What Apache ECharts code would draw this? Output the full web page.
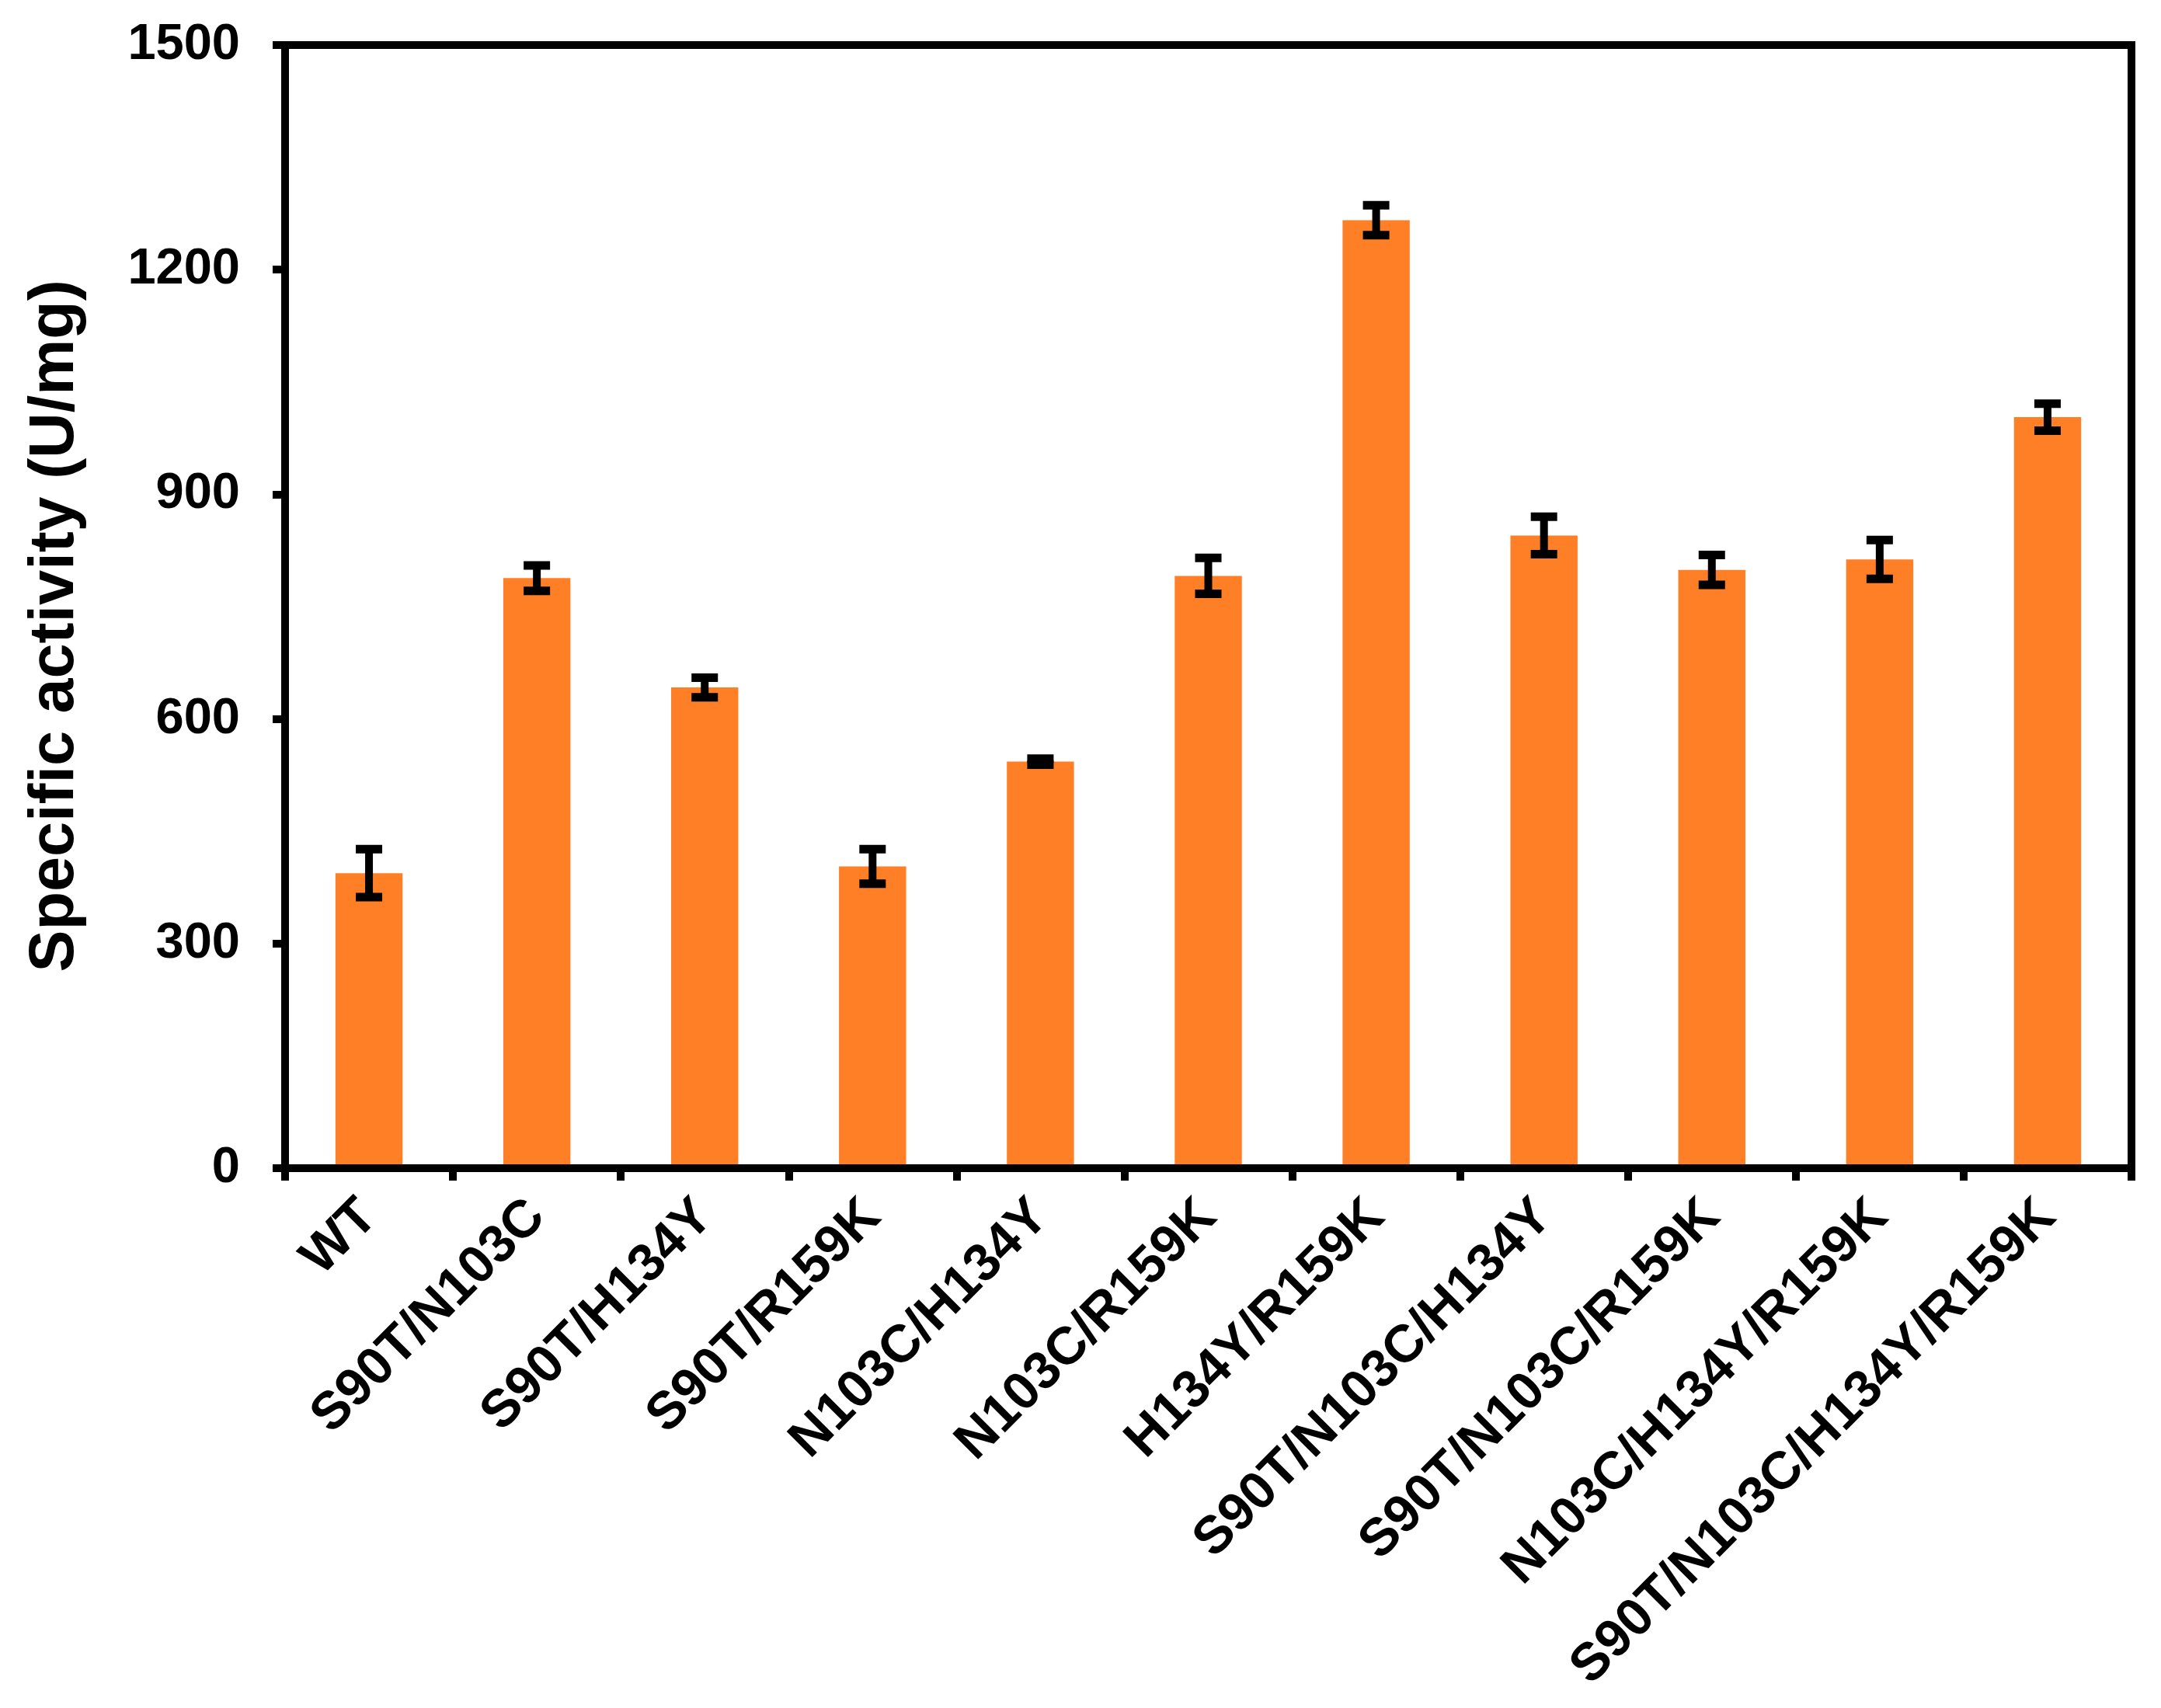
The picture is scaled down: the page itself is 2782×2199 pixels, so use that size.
<!DOCTYPE html>
<html>
<head>
<meta charset="utf-8">
<script src="https://cdn.jsdelivr.net/npm/echarts@6/dist/echarts.min.js"></script>
<style>
html,body{margin:0;padding:0;background:#fff;}
#c{width:2782px;height:2199px;}
</style>
</head>
<body>
<div id="c"></div>
<script>
var categories = ['WT','S90T/N103C','S90T/H134Y','S90T/R159K','N103C/H134Y','N103C/R159K','H134Y/R159K','S90T/N103C/H134Y','S90T/N103C/R159K','N103C/H134Y/R159K','S90T/N103C/H134Y/R159K'];
var values = [394, 788, 642, 403, 543, 791, 1266, 845, 799, 813, 1003];
var errors = [32, 17, 13, 23, 4, 24, 20, 25, 20, 26, 18];
var yMin = 0, yMax = 1500, yStep = 300;

var chart = echarts.init(document.getElementById('c'), null, {renderer:'canvas'});
var FONT = '"Liberation Sans", Arial, sans-serif';

var errData = values.map(function(v, i){ return [i, v - errors[i], v + errors[i]]; });

chart.setOption({
  backgroundColor: '#fff',
  animation: false,
  grid: {left: 367, right: 38, top: 58, bottom: 695, show: true, borderColor: '#000', borderWidth: 10, backgroundColor: 'transparent'},
  xAxis: {
    type: 'category',
    data: categories,
    z: 5,
    axisLine: {show: true, lineStyle: {color: '#000', width: 10}},
    axisTick: {show: true, length: 16, lineStyle: {color: '#000', width: 10}},
    axisLabel: {rotate: 45, margin: 52, color: '#000', fontSize: 68, fontWeight: 'bold', fontFamily: FONT, interval: 0},
    splitLine: {show: false}
  },
  yAxis: {
    type: 'value',
    min: yMin, max: yMax, interval: yStep,
    z: 5,
    name: 'Specific activity (U/mg)',
    nameLocation: 'middle',
    nameGap: 255,
    nameTextStyle: {color: '#000', fontSize: 81, fontWeight: 'bold', fontFamily: FONT, padding: [0, 50, 0, 0]},
    axisLine: {show: true, lineStyle: {color: '#000', width: 10}},
    axisTick: {show: true, length: 16, lineStyle: {color: '#000', width: 10}},
    axisLabel: {margin: 58, color: '#000', fontSize: 65, fontWeight: 'bold', fontFamily: FONT, formatter: function(v){ return String(v); }},
    splitLine: {show: false}
  },
  series: [
    {
      type: 'bar',
      data: values,
      barWidth: '40%',
      itemStyle: {color: '#FF7F27'},
      z: 2
    },
    {
      type: 'custom',
      z: 10,
      data: errData,
      renderItem: function(params, api){
        var x = api.value(0);
        var lo = api.coord([x, api.value(1)]);
        var hi = api.coord([x, api.value(2)]);
        var capW = 34, capH = 11, stemW = 10;
        return {
          type: 'group',
          children: [
            {type: 'rect', shape: {x: hi[0] - stemW/2, y: hi[1], width: stemW, height: lo[1] - hi[1]}, style: {fill: '#000'}},
            {type: 'rect', shape: {x: hi[0] - capW/2, y: hi[1] - capH/2, width: capW, height: capH}, style: {fill: '#000'}},
            {type: 'rect', shape: {x: lo[0] - capW/2, y: lo[1] - capH/2, width: capW, height: capH}, style: {fill: '#000'}}
          ]
        };
      }
    }
  ]
});
</script>
</body>
</html>
